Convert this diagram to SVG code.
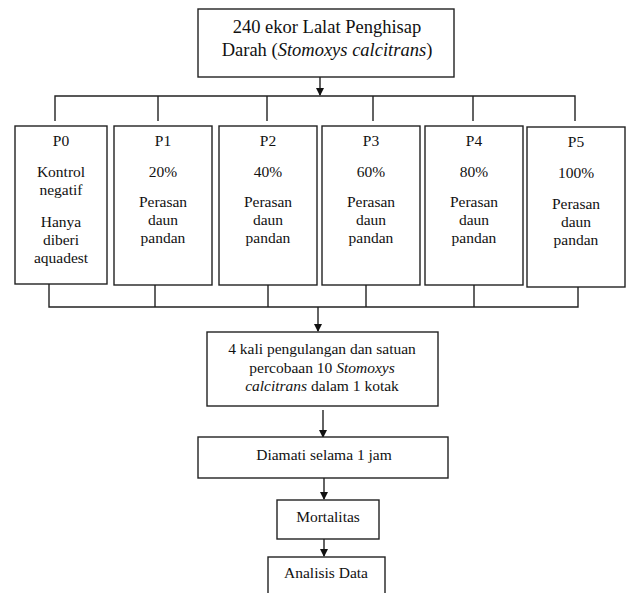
<svg xmlns="http://www.w3.org/2000/svg" width="630" height="593" viewBox="0 0 630 593" font-family="'Liberation Serif', 'Times New Roman', Times, 'DejaVu Serif', serif">
<defs>
<marker id="ah" markerWidth="8" markerHeight="8" refX="7" refY="4" orient="auto" markerUnits="userSpaceOnUse">
<path d="M0,0 L8,4 L0,8 Z" fill="#111"/>
</marker>
<style>
.box{fill:#fff;stroke:#222;stroke-width:1.4}
.ln{fill:none;stroke:#222;stroke-width:1.4}
.t{font-family:'Liberation Serif', 'Times New Roman', Times, 'DejaVu Serif', serif;font-size:15.5px;fill:#111;text-anchor:middle}
.tl{font-family:'Liberation Serif', 'Times New Roman', Times, 'DejaVu Serif', serif;font-size:18.5px;fill:#111;text-anchor:middle}
.i{font-style:italic}
</style>
</defs>
<rect width="630" height="593" fill="#fff"/>
<g id="connectors">
<path class="ln" d="M320,77 V95" marker-end="url(#ah)"/>
<path class="ln" d="M55,121 V96 H575 V121"/>
<path class="ln" d="M158,96 V121 M267,96 V121 M373,96 V121 M473,96 V121"/>
<path class="ln" d="M49,284 V307 H578 V287"/>
<path class="ln" d="M155,285 V307 M268,285 V307 M366,285 V307 M474,285 V307"/>
<path class="ln" d="M318,307 V331" marker-end="url(#ah)"/>
<path class="ln" d="M323,410 V437" marker-end="url(#ah)"/>
<path class="ln" d="M324,478 V499" marker-end="url(#ah)"/>
<path class="ln" d="M324,539 V556" marker-end="url(#ah)"/>
</g>
<g id="top">
<rect class="box" x="198" y="9" width="256" height="68"/>
<text class="tl" x="327" y="33">240 ekor Lalat Penghisap</text>
<text class="tl" x="327" y="56">Darah (<tspan class="i">Stomoxys calcitrans</tspan>)</text>
</g>
<g id="p0">
<rect class="box" x="15" y="126" width="92" height="158"/>
<text class="t" x="61" y="146">P0</text>
<text class="t" x="61" y="177">Kontrol</text>
<text class="t" x="61" y="195">negatif</text>
<text class="t" x="61" y="227">Hanya</text>
<text class="t" x="61" y="245">diberi</text>
<text class="t" x="61" y="263">aquadest</text>
</g>
<g id="p1">
<rect class="box" x="114" y="126" width="98" height="159"/>
<text class="t" x="163" y="146">P1</text>
<text class="t" x="163" y="177">20%</text>
<text class="t" x="163" y="207">Perasan</text>
<text class="t" x="163" y="225">daun</text>
<text class="t" x="163" y="243">pandan</text>
</g>
<g id="p2">
<rect class="box" x="219" y="126" width="98" height="159"/>
<text class="t" x="268" y="146">P2</text>
<text class="t" x="268" y="177">40%</text>
<text class="t" x="268" y="207">Perasan</text>
<text class="t" x="268" y="225">daun</text>
<text class="t" x="268" y="243">pandan</text>
</g>
<g id="p3">
<rect class="box" x="322" y="126" width="98" height="159"/>
<text class="t" x="371" y="146">P3</text>
<text class="t" x="371" y="177">60%</text>
<text class="t" x="371" y="207">Perasan</text>
<text class="t" x="371" y="225">daun</text>
<text class="t" x="371" y="243">pandan</text>
</g>
<g id="p4">
<rect class="box" x="425" y="126" width="98" height="159"/>
<text class="t" x="474" y="146">P4</text>
<text class="t" x="474" y="177">80%</text>
<text class="t" x="474" y="207">Perasan</text>
<text class="t" x="474" y="225">daun</text>
<text class="t" x="474" y="243">pandan</text>
</g>
<g id="p5">
<rect class="box" x="527" y="127" width="98" height="160"/>
<text class="t" x="576" y="147">P5</text>
<text class="t" x="576" y="178">100%</text>
<text class="t" x="576" y="209">Perasan</text>
<text class="t" x="576" y="227">daun</text>
<text class="t" x="576" y="245">pandan</text>
</g>
<g id="ulangan">
<rect class="box" x="207" y="332" width="231" height="74"/>
<text class="t" x="322" y="354">4 kali pengulangan dan satuan</text>
<text class="t" x="322" y="373">percobaan 10 <tspan class="i">Stomoxys</tspan></text>
<text class="t" x="322" y="391"><tspan class="i">calcitrans</tspan> dalam 1 kotak</text>
</g>
<g id="diamati">
<rect class="box" x="198" y="437" width="250" height="41"/>
<text class="t" x="324" y="460">Diamati selama 1 jam</text>
</g>
<g id="mortalitas">
<rect class="box" x="277" y="500" width="102" height="39"/>
<text class="t" x="328" y="522">Mortalitas</text>
</g>
<g id="analisis">
<rect class="box" x="268" y="557" width="117" height="45"/>
<text class="t" x="326" y="578">Analisis Data</text>
</g>
</svg>
